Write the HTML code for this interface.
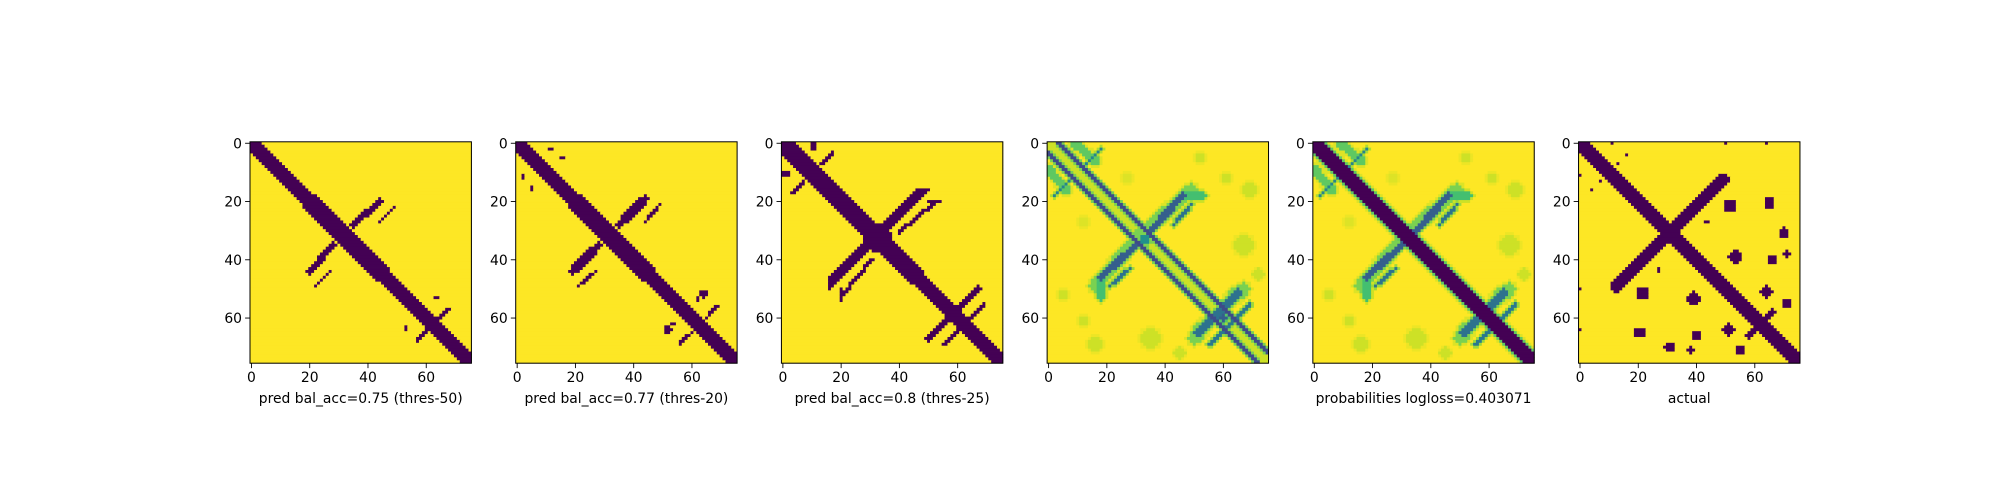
<!DOCTYPE html>
<html><head><meta charset="utf-8"><style>
html,body{margin:0;padding:0;background:#fff;}
svg{display:block;font-family:"DejaVu Sans","Liberation Sans",sans-serif;}
</style></head><body>
<svg id="fig" width="2000" height="500" viewBox="0 0 2000 500"></svg>
<script>
// ---- data ----
const tickValues = [0,20,40,60];
const gridSize = 76;
// strokes: [r1,c1,r2,c2,halfWidth,value]; blobs: [r,c,radius,value]; mirrored about the diagonal
const p1Strokes = [[0,0,20,20,2.6,0],[20,20,45,45,3.0,0],[45,45,75,75,2.4,0],[28,35,20,44,1.1,0],[27,44,22,49,0.6,0],[67,57,57,68,0.6,0]];
const p1Blobs = [[53,63.5,0.6,0]];
const p2Strokes = [[0,0,20,20,2.6,0],[20,20,45,45,3.0,0],[45,45,75,75,2.4,0],[28,35,19,44,1.4,0],[26,37,20,43,1.8,0],[27,44,21,49,0.6,0],[68.4,56.6,56.2,68.6,0.6,0]];
const p2Blobs = [[51.8,64,1.4,0],[53.5,62,0.7,0],[2,11.4,0.6,0],[5,15.4,0.6,0]];
const p3Strokes = [[0,0,25,25,2.9,0],[25,25,45,45,3.3,0],[45,45,75,75,2.8,0],[32,32,17,47,1.9,0],[17,46,16,50,0.8,0],[30.4,40,19.8,53,0.7,0],[19.8,50,20,54,0.7,0],[57,60,50,67,1.4,0],[69,55.5,55,69,0.7,0],[7.2,13,3.2,17,0.6,0]];
const p3Blobs = [[33,32,4.2,0],[58,58,2.6,0],[0.8,10.5,1.5,0]];
const p4Strokes = [[0,0,75,75,2.0,0.92],[0,3.5,71.5,75,0.5,0.22],[32,31,16,49,2.2,0.8],[30,35,18,46,1.2,0.3],[28,43,21,49,0.55,0.38],[18,46,18,53,1.2,0.7],[65,51,50,67,2.2,0.8],[65,51,52,65,1.1,0.38],[69,55.5,55,69,0.55,0.4],[0,9,6,16,1.6,0.75],[8,12,2,18,0.5,0.45]];
const p4Blobs = [[33,33,1.5,0.5],[60,60,1.2,0.3],[35,67,3.5,0.93],[16,69,2.5,0.93],[5,52,1.5,0.93],[12,61,1.5,0.93],[45,72,2,0.93],[27,12,1.5,0.94]];
const p5Strokes = [[0,0,75,75,3.2,0.75],[0,0,75,75,2.4,0],[32,31,16,49,2.2,0.8],[30,35,18,46,1.2,0.3],[28,43,21,49,0.55,0.38],[18,46,18,53,1.2,0.7],[65,51,50,67,2.2,0.8],[65,51,52,65,1.1,0.38],[69,55.5,55,69,0.55,0.4],[0,9,6,16,1.6,0.75],[8,12,2,18,0.5,0.45]];
const p5Blobs = [[35,67,3.5,0.93],[16,69,2.5,0.93],[5,52,1.5,0.93],[12,61,1.5,0.93],[45,72,2,0.93],[27,12,1.5,0.94]];
const p6Strokes = [[0,0,75,75,2.2,0],[49,12.6,12.4,49.2,2.0,0],[58,66,65,59,1.1,0]];
const p6Blobs = [[61.6,62.4,2.3,0],[21.5,51.5,2.4,0],[20.4,65,1.9,0],[30.7,69.8,1.8,0],[39,53.2,2.3,0],[40,66,1.8,0],[38,71,1.0,0],[51,64,2.1,0],[55,71,1.5,0],[26.7,43.5,0.8,0],[0,11,0.7,0],[0,50,0.7,0],[0,64,0.6,0],[4,16,0.9,0],[7,13,0.8,0]];
const panelStrokes = [p1Strokes,p2Strokes,p3Strokes,p4Strokes,p5Strokes,p6Strokes];
const panelBlobs = [p1Blobs,p2Blobs,p3Blobs,p4Blobs,p5Blobs,p6Blobs];
const labels = ["pred bal_acc=0.75 (thres-50)","pred bal_acc=0.77 (thres-20)","pred bal_acc=0.8 (thres-25)","","probabilities logloss=0.403071","actual"];

// ---- layout ----
const NS="http://www.w3.org/2000/svg";
const svg=document.getElementById('fig');
const X0=250, STEP=265.71, Y0=141.8, SIZE=221.4, CELL=SIZE/gridSize;
const vstops=[[0,'#440154'],[0.1,'#482475'],[0.2,'#414487'],[0.3,'#355f8d'],[0.4,'#2a788e'],[0.5,'#21918c'],[0.6,'#22a884'],[0.7,'#44bf70'],[0.8,'#7ad151'],[0.9,'#bddf26'],[1,'#fde725']];
function hex(h){return [1,3,5].map(i=>parseInt(h.substr(i,2),16));}
function viridis(v){v=Math.max(0,Math.min(1,v));for(let i=1;i<vstops.length;i++){if(v<=vstops[i][0]){const a=vstops[i-1],b=vstops[i];const t=(v-a[0])/(b[0]-a[0]);const A=hex(a[1]),B=hex(b[1]);return 'rgb('+A.map((x,k)=>Math.round(x+(B[k]-x)*t)).join(',')+')';}}return vstops[10][1];}
function segDist(r,c,s){const dr=s[2]-s[0],dc=s[3]-s[1];const L=dr*dr+dc*dc;let t=L?((r-s[0])*dr+(c-s[1])*dc)/L:0;t=Math.max(0,Math.min(1,t));const pr=s[0]+t*dr-r,pc=s[1]+t*dc-c;return Math.sqrt(pr*pr+pc*pc);}
function el(tag,attrs,parent){const e=document.createElementNS(NS,tag);for(const k in attrs)e.setAttribute(k,attrs[k]);(parent||svg).appendChild(e);return e;}
function xScale(p,c){return X0+p*STEP+c*CELL;}
function yScale(r){return Y0+r*CELL;}

for(let p=0;p<6;p++){
  const g=el('g',{});
  
  
  const strokes=[],blobs=[];
  panelStrokes[p].forEach(s=>{strokes.push(s);strokes.push([s[1],s[0],s[3],s[2],s[4],s[5]]);});
  panelBlobs[p].forEach(b=>{blobs.push(b);blobs.push([b[1],b[0],b[2],b[3]]);});
  const soft = (p===3||p===4);
  for(let r=0;r<gridSize;r++){
    let runStart=0;
    const vals=[];
    for(let c=0;c<gridSize;c++){
      let v=1;
      strokes.forEach(s=>{const d=segDist(r,c,s);if(d<=s[4])v=Math.min(v,s[5]);else if(soft&&d<=s[4]+0.8)v=Math.min(v,s[5]+(1-s[5])*0.75);});
      blobs.forEach(b=>{const d=Math.hypot(r-b[0],c-b[1]);if(d<=b[2])v=Math.min(v,b[3]);else if(soft&&d<=b[2]+0.8)v=Math.min(v,b[3]+(1-b[3])*0.6);});
      vals.push(Math.round(v*40)/40);
    }
    for(let c=0;c<=gridSize;c++){
      if(c===gridSize||vals[c]!==vals[runStart]){
        const rect=el('rect',{x:xScale(p,runStart).toFixed(2),y:yScale(r).toFixed(2),width:((c-runStart)*CELL+0.4).toFixed(2),height:(CELL+0.4).toFixed(2),fill:viridis(vals[runStart])},g);
        
        
        runStart=c;
      }
    }
  }
  const fr=el('rect',{x:xScale(p,0),y:Y0,width:SIZE,height:SIZE,fill:'none',stroke:'#000','stroke-width':1});
  
  
  tickValues.forEach(t=>{
    const tx=xScale(p,t+0.5), ty=yScale(t+0.5);
    el('line',{x1:tx,x2:tx,y1:Y0+SIZE,y2:Y0+SIZE+4.9,stroke:'#000','stroke-width':0.9});
    const xl=el('text',{x:tx,y:Y0+SIZE+19,'font-size':13.9,'text-anchor':'middle',fill:'#000'});
    xl.textContent=t;
    
    
    el('line',{x1:xScale(p,0)-4.9,x2:xScale(p,0),y1:ty,y2:ty,stroke:'#000','stroke-width':0.9});
    const yl=el('text',{x:xScale(p,0)-8,y:ty+5,'font-size':13.9,'text-anchor':'end',fill:'#000'});
    yl.textContent=t;
    
    
  });
  const lab=el('text',{x:xScale(p,0)+SIZE/2,y:Y0+SIZE+40,'font-size':13.9,'text-anchor':'middle',fill:'#000'});
  lab.textContent=labels[p];
  
  
}
</script>
</body></html>
